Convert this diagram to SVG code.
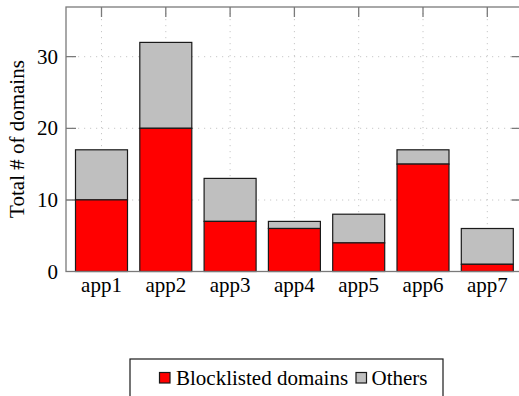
<svg xmlns="http://www.w3.org/2000/svg" width="519" height="396" viewBox="0 0 519 396">
<style>
text{font-family:"Liberation Serif","DejaVu Serif",serif;font-size:21px;fill:#000}
.grid{stroke:#c8c8c8;stroke-width:1;stroke-dasharray:1.2 4.8;fill:none}
.axis{stroke:#7a7a7a;stroke-width:1.3;fill:none}
.tick{stroke:#7a7a7a;stroke-width:1.3}
.red{fill:#ff0000;stroke:#1a1a1a;stroke-width:1.2}
.gray{fill:#bfbfbf;stroke:#1a1a1a;stroke-width:1.2}
.yl{text-anchor:end}
.xl{text-anchor:middle}
</style>
<rect width="519" height="396" fill="#fff"/>
<g id="grid">
<path class="grid" d="M66 200H521M66 128.3H521M66 56.7H521"/>
<path class="grid" d="M101.5 7V271.5M165.8 7V271.5M230.1 7V271.5M294.4 7V271.5M358.7 7V271.5M423 7V271.5M487.3 7V271.5"/>
</g>
<g id="ticks">
<path class="tick" d="M66 200h10M66 128.3h10M66 56.7h10M521.5 200h-10M521.5 128.3h-10M521.5 56.7h-10"/>
<path class="tick" d="M101.5 7v10M165.8 7v10M230.1 7v10M294.4 7v10M358.7 7v10M423 7v10M487.3 7v10"/>
</g>
<g id="app1"><rect class="gray" x="75.5" y="149.8" width="52" height="50.1"/><rect class="red" x="75.5" y="199.9" width="52" height="71.6"/></g>
<g id="app2"><rect class="gray" x="139.8" y="42.4" width="52" height="85.9"/><rect class="red" x="139.8" y="128.3" width="52" height="143.2"/></g>
<g id="app3"><rect class="gray" x="204.1" y="178.4" width="52" height="43"/><rect class="red" x="204.1" y="221.4" width="52" height="50.1"/></g>
<g id="app4"><rect class="gray" x="268.4" y="221.4" width="52" height="7.1"/><rect class="red" x="268.4" y="228.5" width="52" height="43"/></g>
<g id="app5"><rect class="gray" x="332.7" y="214.2" width="52" height="28.7"/><rect class="red" x="332.7" y="242.9" width="52" height="28.6"/></g>
<g id="app6"><rect class="gray" x="397" y="149.8" width="52" height="14.3"/><rect class="red" x="397" y="164.1" width="52" height="107.4"/></g>
<g id="app7"><rect class="gray" x="461.3" y="228.5" width="52" height="35.8"/><rect class="red" x="461.3" y="264.3" width="52" height="7.2"/></g>
<g id="axes"><rect class="axis" x="66" y="7" width="455.5" height="264.5"/></g>
<g id="ylabels">
<text class="yl" x="58" y="278.5">0</text>
<text class="yl" x="58" y="207">10</text>
<text class="yl" x="58" y="135.3">20</text>
<text class="yl" x="58" y="63.7">30</text>
</g>
<g id="xlabels">
<text class="xl" x="101.5" y="292">app1</text>
<text class="xl" x="165.8" y="292">app2</text>
<text class="xl" x="230.1" y="292">app3</text>
<text class="xl" x="294.4" y="292">app4</text>
<text class="xl" x="358.7" y="292">app5</text>
<text class="xl" x="423" y="292">app6</text>
<text class="xl" x="487.3" y="292">app7</text>
</g>
<text id="ylabel" transform="translate(23.5 139) rotate(-90)" text-anchor="middle">Total # of domains</text>
<g id="legend">
<rect x="130" y="359" width="313" height="45" fill="#fff" stroke="#1a1a1a" stroke-width="1.2"/>
<rect class="red" x="159.5" y="372.5" width="10.5" height="10.5"/>
<text x="176" y="385">Blocklisted domains</text>
<rect class="gray" x="356" y="372.5" width="10.5" height="10.5"/>
<text x="371.5" y="385">Others</text>
</g>
</svg>
